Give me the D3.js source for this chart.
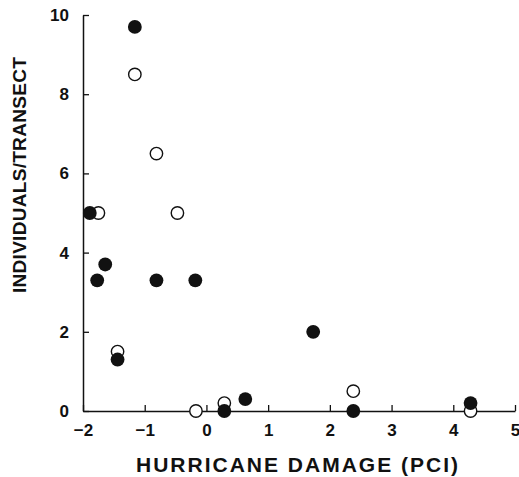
<!DOCTYPE html>
<html><head><meta charset="utf-8">
<script src="https://cdn.jsdelivr.net/npm/d3@7"></script>
<style>body{margin:0;background:#fff}svg{display:block}</style>
</head><body>
<script>
const openX = [-1.16, -0.81, -0.47, -1.75, -1.44, -0.17, 0.29, 2.38, 4.28];
const openY = [8.5, 6.5, 5.0, 5.0, 1.5, 0.0, 0.2, 0.5, 0.0];
const filledX = [-1.16, -1.89, -1.77, -1.64, -0.81, -0.18, -1.44, 0.29, 0.63, 1.73, 2.38, 4.28];
const filledY = [9.7, 5.0, 3.3, 3.7, 3.3, 3.3, 1.3, 0.0, 0.3, 2.0, 0.0, 0.2];
const xTicks = [-2, -1, 0, 1, 2, 3, 4, 5];
const yTicks = [0, 2, 4, 6, 8, 10];
const xTitle = "HURRICANE DAMAGE (PCI)";
const yTitle = "INDIVIDUALS/TRANSECT";

const W = 519, H = 477;
const svg = d3.select("body").append("svg").attr("width", W).attr("height", H);
const x = d3.scaleLinear().domain([-2, 5]).range([83, 515]);
const y = d3.scaleLinear().domain([0, 10]).range([411, 15]);
const ink = "#111";
const font = "Liberation Sans, Arial, Helvetica, sans-serif";

const xAxis = svg.append("g").attr("transform", `translate(0,${y(0)})`)
  .call(d3.axisBottom(x).tickValues(xTicks).tickSizeInner(-6).tickSizeOuter(0).tickPadding(13)
    .tickFormat(d => d < 0 ? "\u2212" + Math.abs(d) : d));
const yAxis = svg.append("g").attr("transform", `translate(${x(-2)},0)`)
  .call(d3.axisLeft(y).tickValues(yTicks).tickSizeInner(-6).tickSizeOuter(0).tickPadding(14));
[xAxis, yAxis].forEach(g => {
  g.select(".domain").attr("stroke", ink).attr("stroke-width", 1.5);
  g.selectAll(".tick line").attr("stroke", ink).attr("stroke-width", 1.3);
  g.selectAll(".tick text").attr("fill", ink).attr("font-family", font)
    .attr("font-weight", "bold").attr("font-size", 17);
});

svg.append("text").attr("x", 298).attr("y", 472).attr("text-anchor", "middle")
  .attr("font-family", font).attr("font-weight", "bold").attr("font-size", 21)
  .attr("letter-spacing", 2).attr("fill", ink).text(xTitle);
svg.append("text").attr("transform", "translate(26,175) rotate(-90)").attr("text-anchor", "middle")
  .attr("font-family", font).attr("font-weight", "bold").attr("font-size", 19)
  .attr("letter-spacing", 0.3).attr("fill", ink).text(yTitle);

const openData = openX.map((v, i) => ({x: v, y: openY[i]}));
const filledData = filledX.map((v, i) => ({x: v, y: filledY[i]}));
svg.append("g").selectAll("circle").data(openData).join("circle")
  .attr("cx", d => x(d.x)).attr("cy", d => y(d.y)).attr("r", 6.2)
  .attr("fill", "#fff").attr("stroke", ink).attr("stroke-width", 1.4);
svg.append("g").selectAll("circle").data(filledData).join("circle")
  .attr("cx", d => x(d.x)).attr("cy", d => y(d.y)).attr("r", 6.9)
  .attr("fill", ink);
</script>
</body></html>
